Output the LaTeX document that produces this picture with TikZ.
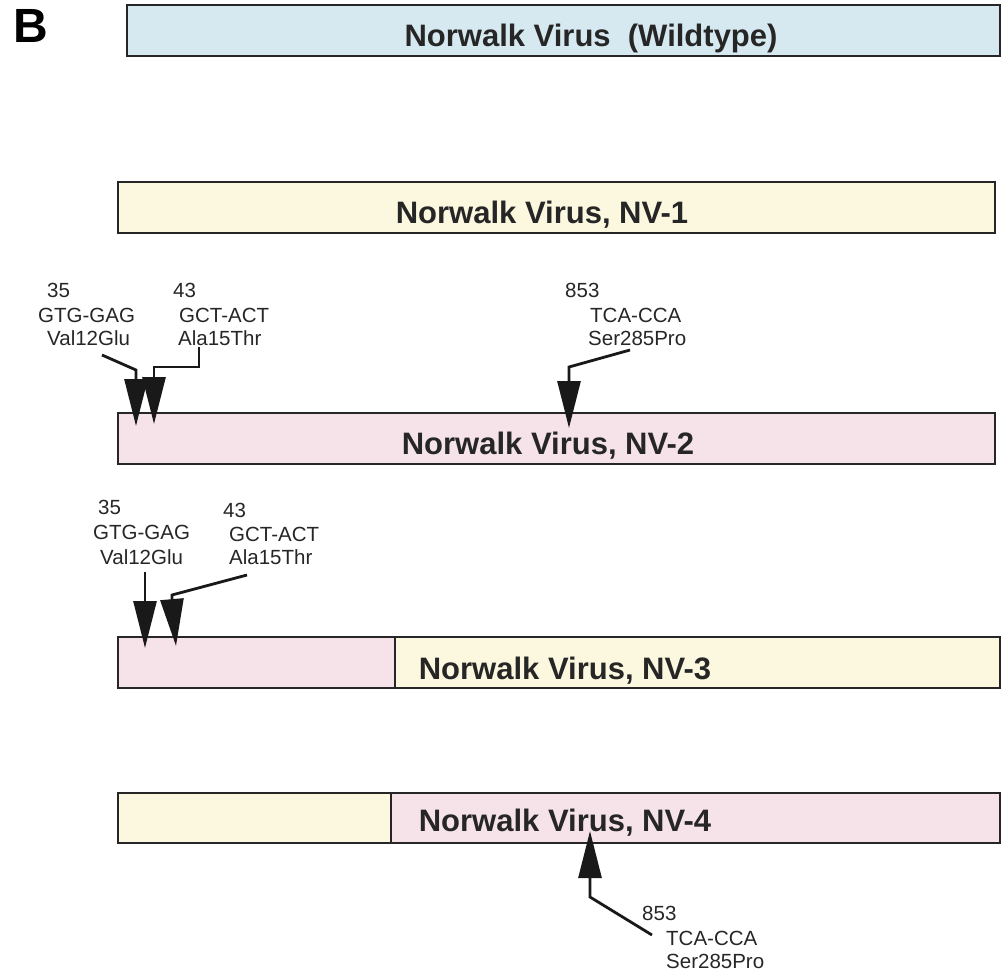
\documentclass[tikz,border=0pt]{standalone}
\usepackage{fontspec}
\setmainfont{Liberation Sans}
\usepackage{xcolor}
\usetikzlibrary{arrows.meta,positioning}

\definecolor{wildblue}{HTML}{D6E9F1}
\definecolor{nvyellow}{HTML}{FBF8DF}
\definecolor{nvpink}{HTML}{F6E3EA}

\begin{document}
\begin{tikzpicture}[
  x=1pt, y=-1pt,
  bar/.style={draw=black!85, line width=1.8pt, inner sep=0pt, outer sep=0pt, anchor=north west, minimum height=51pt},
  title/.style={font=\fontsize{31}{36}\selectfont\bfseries, inner sep=0pt, anchor=base, text=black!85},
  mut/.style={font=\fontsize{20.5}{24}\selectfont, inner sep=0pt, anchor=base west, text=black!85},
  pin/.style={draw=black!90, line width=2.8pt, -{Triangle[width=23pt,length=47pt]}}
]
\useasboundingbox (0,0) rectangle (1003,974);

\node[font=\fontsize{48}{54}\selectfont\bfseries, inner sep=0pt, anchor=base west] (panel) at (13,43) {B};

% bars
\node[bar, fill=wildblue, minimum width=873pt] (wt) at (127,5) {};
\node[bar, fill=nvyellow, minimum width=877pt] (nv1) at (118,182) {};
\node[bar, fill=nvpink, minimum width=877pt] (nv2) at (118,413) {};
\node[bar, fill=nvpink, minimum width=277pt] (nv3a) at (118,637) {};
\node[bar, fill=nvyellow, minimum width=605pt, anchor=north west] (nv3b) at (nv3a.north east) {};
\node[bar, fill=nvyellow, minimum width=273pt, minimum height=50pt] (nv4a) at (118,793) {};
\node[bar, fill=nvpink, minimum width=609pt, minimum height=50pt, anchor=north west] (nv4b) at (nv4a.north east) {};

\node[title] (wtname) at (591,46.5) {Norwalk Virus\ \ (Wildtype)};
\node[title] (nv1name) at (542,223) {Norwalk Virus, NV-1};
\node[title] (nv2name) at (548,454) {Norwalk Virus, NV-2};
\node[title] (nv3name) at (565,679) {Norwalk Virus, NV-3};
\node[title] (nv4name) at (565,831) {Norwalk Virus, NV-4};

% NV-2 mutations
\node[mut] (nv2posa) at (47,297) {35};
\node[mut] (nv2coda) at (38,322) {GTG-GAG};
\node[mut] (nv2aaa) at (47,345) {Val12Glu};
\node[mut] (nv2posb) at (173,297) {43};
\node[mut] (nv2codb) at (179,322) {GCT-ACT};
\node[mut] (nv2aab) at (178,345) {Ala15Thr};
\node[mut] (nv2posc) at (565,297) {853};
\node[mut] (nv2codc) at (590,322) {TCA-CCA};
\node[mut] (nv2aac) at (588,345) {Ser285Pro};

\coordinate (nv2sa) at (136,426);
\coordinate (nv2sb) at (154,424);
\coordinate (nv2sc) at (569,428);
\draw[pin] (102,355) -- (136,370) -- (nv2sa);
\draw[pin] (199,347) -- (199,367) -- (154,367) -- (nv2sb);
\draw[pin] (630,350) -- (569,367) -- (nv2sc);

% NV-3 mutations
\node[mut] (nv3posa) at (98,514) {35};
\node[mut] (nv3coda) at (93,539) {GTG-GAG};
\node[mut] (nv3aaa) at (100,564) {Val12Glu};
\node[mut] (nv3posb) at (223,517) {43};
\node[mut] (nv3codb) at (229,541) {GCT-ACT};
\node[mut] (nv3aab) at (229,564) {Ala15Thr};

\coordinate (nv3sa) at (145,648);
\coordinate (nv3sb) at (176,646);
\draw[pin] (145,572) -- (nv3sa);
\draw[pin] (247,575) -- (172,595) -- (172,600) -- (nv3sb);

% NV-4 mutation
\node[mut] (nv4posc) at (642,920) {853};
\node[mut] (nv4codc) at (666,945) {TCA-CCA};
\node[mut] (nv4aac) at (666,968) {Ser285Pro};

\coordinate (nv4sc) at (590,831);
\draw[pin] (652,935) -- (590,897) -- (nv4sc);
\end{tikzpicture}
\end{document}
